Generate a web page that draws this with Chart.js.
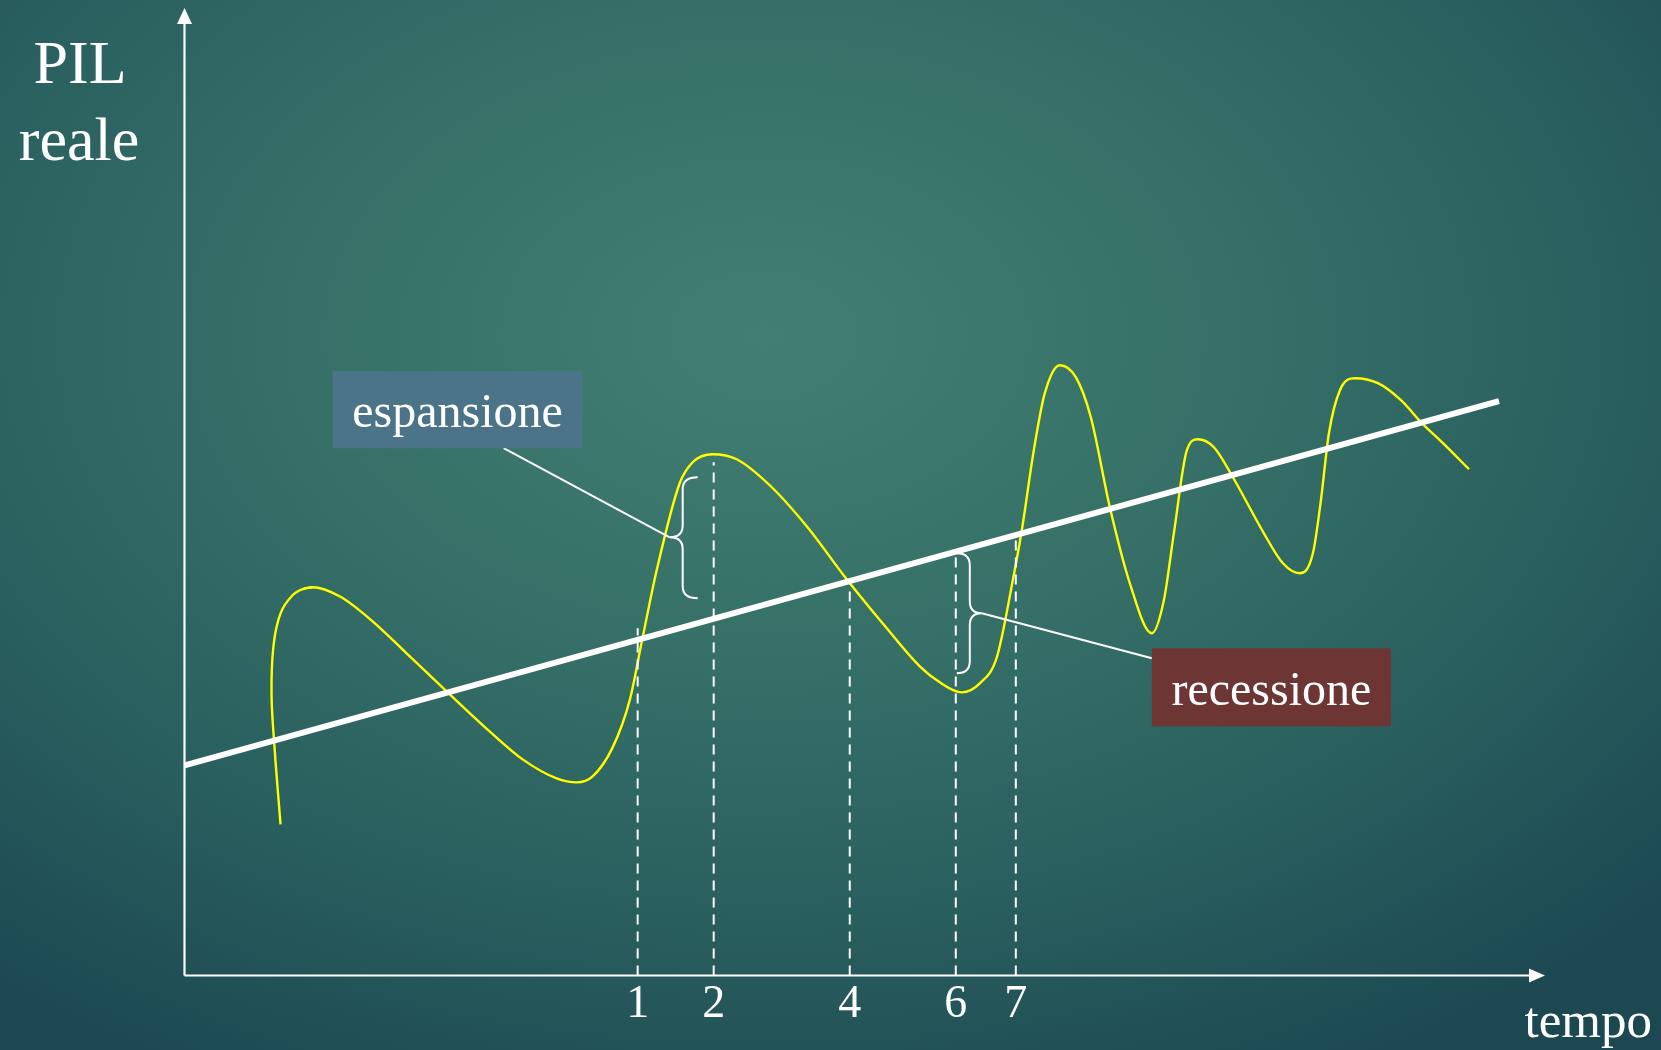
<!DOCTYPE html>
<html lang="it">
<head>
<meta charset="UTF-8">
<title>Ciclo economico - PIL reale</title>
<script src="https://cdn.jsdelivr.net/npm/chart.js"></script>
<style>
    html, body { margin: 0; padding: 0; overflow: hidden; }
    body {
        width: 1661px; height: 1050px;
        background: radial-gradient(ellipse 75% 80% at 46% 32%, #427f72 0%, #356f67 40%, #295e5e 70%, #1c4852 100%);
    }
    #wrap { position: relative; width: 1661px; height: 1050px; }
</style>
</head>
<body>
<div id="wrap"><canvas id="ciclo"></canvas></div>
<script>
// --- Dati (unità arbitrarie: tempo, PIL reale) ---
// il primo tratto (fino al primo picco) torna leggermente indietro nel tempo
const cicloTempo = [96, 90, 87, 89, 96, 108, 119, 128,
    155, 188, 222, 262, 305, 338, 372, 392, 408, 428, 445, 458, 472, 495, 508, 528,
    552, 585, 622, 662, 702, 735, 755, 777, 795, 812, 828, 837, 849, 860, 875,
    891, 906, 925, 945, 967, 979, 989, 1002, 1013, 1029, 1048, 1079, 1098, 1115,
    1128, 1136, 1144, 1155, 1170, 1193, 1216, 1237, 1258, 1284];
const cicloPil = [151, 228, 282, 330, 362, 380, 386.5, 388,
    379, 354, 322, 284, 244, 216, 197, 193, 199, 228, 275, 338, 405, 492, 513, 521,
    516, 490, 449, 396, 347, 309, 293, 283, 292, 318, 395, 445, 525, 582, 610,
    598, 558, 468, 392, 342, 375, 442, 525, 536, 528, 498, 442, 412, 402,
    422, 475, 542, 585, 597, 592, 575, 552, 532, 506];
const primoPicco = 7;

const trendTempo = [0, 1314];
const trendPil = [210, 574];

const puntiTempo = [453, 529, 665, 771, 831];
const puntiPil = [347, 513, 392, 422, 438];
const puntiLabel = ['1', '2', '4', '6', '7'];

const X_MAX = 1360, Y_MAX = 967;

const serif = '"Liberation Serif", "Times New Roman", serif';

// etichette con parentesi graffa
const note = [
    { testo: 'espansione', colore: '#4b7488', box: [148, 604, 398, 527],
      punta: [485, 438], asse: 498, fine: 513, top: 498, bot: 377, attacco: [319, 527] },
    { testo: 'recessione', colore: '#6e3535', box: [967, 327, 1206, 249],
      punta: [797, 362], asse: 785, fine: 772, top: 422, bot: 302, attacco: [967, 317] }
];

const decorazioni = {
    id: 'decorazioni',
    beforeDatasetsDraw(chart) {
        const ctx = chart.ctx, a = chart.chartArea;
        const xs = chart.scales.x, ys = chart.scales.y;
        const x0 = xs.getPixelForValue(0), y0 = ys.getPixelForValue(0);
        ctx.save();
        ctx.strokeStyle = '#ffffff';
        ctx.fillStyle = '#ffffff';
        ctx.lineWidth = 2.2;
        // asse y
        ctx.beginPath();
        ctx.moveTo(x0, y0);
        ctx.lineTo(x0, a.top + 12);
        ctx.stroke();
        ctx.beginPath();
        ctx.moveTo(x0, a.top);
        ctx.lineTo(x0 - 7.5, a.top + 16);
        ctx.lineTo(x0 + 7.5, a.top + 16);
        ctx.closePath();
        ctx.fill();
        // asse x
        ctx.beginPath();
        ctx.moveTo(x0, y0);
        ctx.lineTo(a.right - 12, y0);
        ctx.stroke();
        ctx.beginPath();
        ctx.moveTo(a.right, y0);
        ctx.lineTo(a.right - 16, y0 - 7);
        ctx.lineTo(a.right - 16, y0 + 7);
        ctx.closePath();
        ctx.fill();

        // etichette
        ctx.font = '46px ' + serif;
        ctx.textAlign = 'center';
        ctx.textBaseline = 'alphabetic';
        puntiTempo.forEach((t, i) => {
            ctx.fillText(puntiLabel[i], xs.getPixelForValue(t), y0 + 41);
        });
        ctx.font = '51px ' + serif;
        ctx.textAlign = 'right';
        ctx.fillText('tempo', 1652, 1037);
        ctx.font = '62px ' + serif;
        ctx.textAlign = 'center';
        ctx.fillText('PIL', 80, 83);
        ctx.fillText('reale', 79, 160);
        ctx.restore();
    },
    afterDatasetsDraw(chart) {
        const ctx = chart.ctx;
        const xs = chart.scales.x, ys = chart.scales.y;
        const px = v => xs.getPixelForValue(v), py = v => ys.getPixelForValue(v);
        ctx.save();
        note.forEach(n => {
            ctx.strokeStyle = '#ffffff';
            ctx.lineWidth = 2;
            // parentesi graffa
            const vx = px(n.asse), ex = px(n.fine), tx = px(n.punta[0]);
            const top = py(n.top), bot = py(n.bot), mid = py(n.punta[1]);
            const r = 12;
            ctx.beginPath();
            ctx.moveTo(ex, top);
            ctx.quadraticCurveTo(vx, top, vx, top + r);
            ctx.lineTo(vx, mid - r);
            ctx.quadraticCurveTo(vx, mid, tx, mid);
            ctx.quadraticCurveTo(vx, mid, vx, mid + r);
            ctx.lineTo(vx, bot - r);
            ctx.quadraticCurveTo(vx, bot, ex, bot);
            ctx.stroke();
            // linea di richiamo
            ctx.beginPath();
            ctx.moveTo(tx, mid);
            ctx.lineTo(px(n.attacco[0]), py(n.attacco[1]));
            ctx.stroke();
            // riquadro
            const bx1 = px(n.box[0]), by1 = py(n.box[1]), bx2 = px(n.box[2]), by2 = py(n.box[3]);
            ctx.fillStyle = n.colore;
            ctx.fillRect(bx1, by1, bx2 - bx1, by2 - by1);
            ctx.fillStyle = '#ffffff';
            ctx.font = '48px ' + serif;
            ctx.textAlign = 'center';
            ctx.textBaseline = 'alphabetic';
            ctx.fillText(n.testo, (bx1 + bx2) / 2, by2 - 21);
        });
        ctx.restore();
    }
};

const punti = cicloTempo.map((t, i) => ({ x: t, y: cicloPil[i] }));

const datasets = [];
// linee tratteggiate
puntiTempo.forEach((t, i) => {
    datasets.push({
        data: [{ x: t, y: 0 }, { x: t, y: puntiPil[i] }],
        borderColor: '#ffffff',
        borderWidth: 2,
        borderDash: [10, 7],
        showLine: true,
        pointRadius: 0,
        tension: 0
    });
});
// trend
datasets.push({
    data: trendTempo.map((t, i) => ({ x: t, y: trendPil[i] })),
    borderColor: '#ffffff',
    borderWidth: 6,
    showLine: true,
    pointRadius: 0,
    tension: 0
});
// ciclo: primo tratto (curva che torna indietro)
datasets.push({
    data: punti.slice(0, primoPicco + 1),
    borderColor: '#ffff00',
    borderWidth: 2.4,
    showLine: true,
    pointRadius: 0,
    tension: 0.4
});
// ciclo: resto (parte un punto prima del picco così il picco resta orizzontale)
datasets.push({
    data: punti.slice(primoPicco - 1),
    borderColor: '#ffff00',
    borderWidth: 2.4,
    showLine: true,
    pointRadius: 0,
    cubicInterpolationMode: 'monotone'
});

new Chart(document.getElementById('ciclo'), {
    type: 'scatter',
    data: { datasets: datasets },
    options: {
        responsive: true,
        maintainAspectRatio: false,
        animation: false,
        events: [],
        layout: { padding: { left: 184.5, right: 116, top: 8, bottom: 74.5 } },
        scales: {
            x: { type: 'linear', min: 0, max: X_MAX, display: false },
            y: { type: 'linear', min: 0, max: Y_MAX, display: false }
        },
        plugins: {
            legend: { display: false },
            tooltip: { enabled: false }
        }
    },
    plugins: [decorazioni]
});
</script>
</body>
</html>
